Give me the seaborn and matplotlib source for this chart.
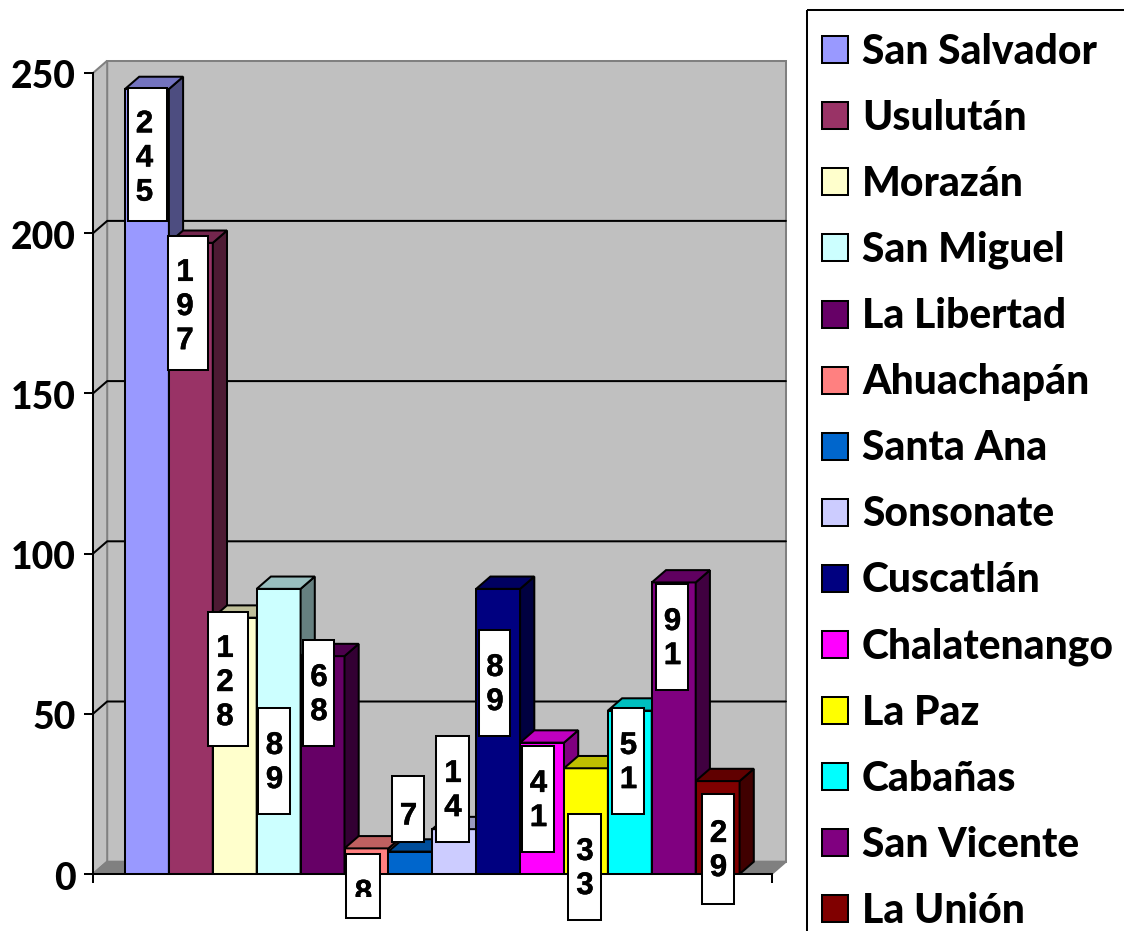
import matplotlib
matplotlib.use("Agg")
import matplotlib.pyplot as plt
from matplotlib.patches import Polygon, Rectangle, Patch
from matplotlib.transforms import Affine2D
from matplotlib.colors import to_rgb
import matplotlib.patheffects as pe
import seaborn as sns
import pandas as pd

# ---------- data ----------
departments = ["San Salvador", "Usulután", "Morazán", "San Miguel", "La Libertad", "Ahuachapán",
               "Santa Ana", "Sonsonate", "Cuscatlán", "Chalatenango", "La Paz", "Cabañas",
               "San Vicente", "La Unión"]
bar_heights = [245, 197, 80, 89, 68, 8, 7, 14, 89, 41, 33, 51, 91, 29]
label_values = [245, 197, 128, 89, 68, 8, 7, 14, 89, 41, 33, 51, 91, 29]
colors = ["#9999FF", "#993366", "#FFFFCC", "#CCFFFF", "#660066", "#FF8080", "#0066CC",
          "#CCCCFF", "#000080", "#FF00FF", "#FFFF00", "#00FFFF", "#800080", "#800000"]
y_ticks = [0, 50, 100, 150, 200, 250]

# ---------- layout (pixels) ----------
W, H = 1124, 931
AX_L, AX_R, AX_B, AX_T = 93, 771.7, 874, 73
BAR_L, BAR_W = 125.0, 43.9
DEPTH_X, DEPTH_Y = 14.2, 12.3
label_boxes = [(128, 167, 88, 221), (168, 208, 236, 370), (208, 248, 612, 746), (258, 290, 708, 814),
               (303, 334, 640, 746), (346, 380, 854, 918), (392, 424, 776, 842), (436, 469, 736, 842),
               (479, 510, 630, 736), (522, 554, 746, 852), (568, 601, 814, 920), (612, 644, 708, 814),
               (656, 688, 584, 690), (702, 734, 794, 904)]
digit_shift_y = {1: 7.5, 2: 2, 3: 4}
LINE = "#000000"
WALL = "#C0C0C0"
FLOOR = "#808080"
lw = 1.45

sns.set_style("white")
plt.rcParams["font.family"] = ["Lato", "DejaVu Sans"]
fig = plt.figure(figsize=(W / 100, H / 100), dpi=100, facecolor="white")
ax = fig.add_axes([AX_L / W, 1 - AX_B / H, (AX_R - AX_L) / W, (AX_B - AX_T) / H])
px = Affine2D().scale(1, -1).translate(0, H)

df = pd.DataFrame({"dep": departments, "n": bar_heights})
sns.barplot(data=df, x="dep", y="n", hue="dep", palette=colors, order=departments, hue_order=departments,
            width=1.0, dodge=False, legend=False, edgecolor=LINE, linewidth=lw, saturation=1, ax=ax)
bars = sorted(list(ax.patches), key=lambda b: b.get_x())

xl = -0.5 - (BAR_L - AX_L) / BAR_W
xr = 13.5 + (AX_R - (BAR_L + 14 * BAR_W)) / BAR_W
ax.set_xlim(xl, xr)
ax.set_ylim(0, 250)
ax.set_xlabel("")
ax.set_ylabel("")
ax.patch.set_visible(False)
dx = DEPTH_X / BAR_W
dy = DEPTH_Y * 250 / (AX_B - AX_T)

# walls and floor
ax.add_patch(Polygon([(xl + dx, dy), (xr + dx, dy), (xr + dx, 250 + dy), (xl + dx, 250 + dy)],
                     closed=True, fc=WALL, ec=FLOOR, lw=lw, clip_on=False, zorder=0.5))
ax.add_patch(Polygon([(xl, 0), (xl + dx, dy), (xl + dx, 250 + dy), (xl, 250)],
                     closed=True, fc=WALL, ec=FLOOR, lw=lw, clip_on=False, zorder=0.5))
ax.add_patch(Polygon([(xl, 0), (xr, 0), (xr + dx, dy), (xl + dx, dy)],
                     closed=True, fc=FLOOR, ec=FLOOR, lw=lw, clip_on=False, zorder=0.6))
for t in y_ticks[1:-1]:
    ax.plot([xl, xl + dx, xr + dx], [t, t + dy, t + dy], color=LINE, lw=lw, clip_on=False, zorder=1)

# 3-D bars, drawn left to right
for i, (b, c) in enumerate(zip(bars, colors)):
    z = 3 + i
    b.set_zorder(z)
    b.set_clip_on(False)
    x0, x1, h = b.get_x(), b.get_x() + b.get_width(), b.get_height()
    rgb = to_rgb(c)
    ax.add_patch(Polygon([(x1, 0), (x1 + dx, dy), (x1 + dx, h + dy), (x1, h)], closed=True,
                         fc=tuple(v * 0.5 for v in rgb), ec=LINE, lw=lw, clip_on=False, zorder=z))
    ax.add_patch(Polygon([(x0, h), (x1, h), (x1 + dx, h + dy), (x0 + dx, h + dy)], closed=True,
                         fc=tuple(v * 0.75 for v in rgb), ec=LINE, lw=lw, clip_on=False, zorder=z))

# axes
for s in ["top", "right"]:
    ax.spines[s].set_visible(False)
for s in ["left", "bottom"]:
    ax.spines[s].set_color(LINE)
    ax.spines[s].set_linewidth(lw)
    ax.spines[s].set_zorder(20)
ax.set_yticks(y_ticks)
ax.set_yticklabels([str(t) for t in y_ticks])
ax.set_xticks([xl, xr])
ax.set_xticklabels([])
ax.tick_params(axis="y", direction="out", length=6.5, width=lw, color=LINE, pad=6, left=True)
ax.tick_params(axis="x", direction="out", length=6.5, width=lw, color=LINE, bottom=True)
for tl in ax.get_yticklabels():
    tl.set_fontsize(26.8)
    tl.set_fontweight("black")
    tl.set_color("black")
    tl.set_transform(tl.get_transform() + Affine2D().translate(0, -1.5))

# data labels: white boxes with stacked digits
clip_rect = Rectangle((0, 0), W, 897, transform=px)
for val, (x0, x1, y0, y1) in zip(label_values, label_boxes):
    ax.add_patch(Rectangle((x0, y0), x1 - x0, y1 - y0, transform=px, fc="white", ec=LINE, lw=lw,
                           clip_on=False, zorder=50))
    s = str(val)
    ox = -3 if len(s) == 3 else 0.5
    t = ax.text((x0 + x1) / 2 + ox, (y0 + y1) / 2 + digit_shift_y[len(s)], "\n".join(s), transform=px,
                ha="center", va="center", multialignment="center", fontsize=22.5, fontweight="bold",
                linespacing=1.18, family=["Liberation Sans Narrow", "Liberation Sans"], color="black", zorder=51,
                path_effects=[pe.withStroke(linewidth=0.3, foreground="black")])
    t.set_clip_path(clip_rect)
    t.set_clip_on(True)

# legend
fig.add_artist(Rectangle((807, 10), 500, 1200, transform=px, fc="none", ec=LINE, lw=lw))
handles = [Patch(facecolor=c, edgecolor=LINE, linewidth=lw, label=d) for c, d in zip(colors, departments)]
leg = fig.legend(handles=handles, loc="upper left", bbox_to_anchor=(822 / W, 1 - 33 / H), frameon=False,
                 borderaxespad=0, borderpad=0, handlelength=0.635, handleheight=0.635, handletextpad=0.35,
                 labelspacing=0.688, prop={"family": "Lato", "weight": "black", "size": 29.3})
for tx in leg.get_texts():
    tx.set_color("black")

fig.savefig("out.png", dpi=100, facecolor="white")
